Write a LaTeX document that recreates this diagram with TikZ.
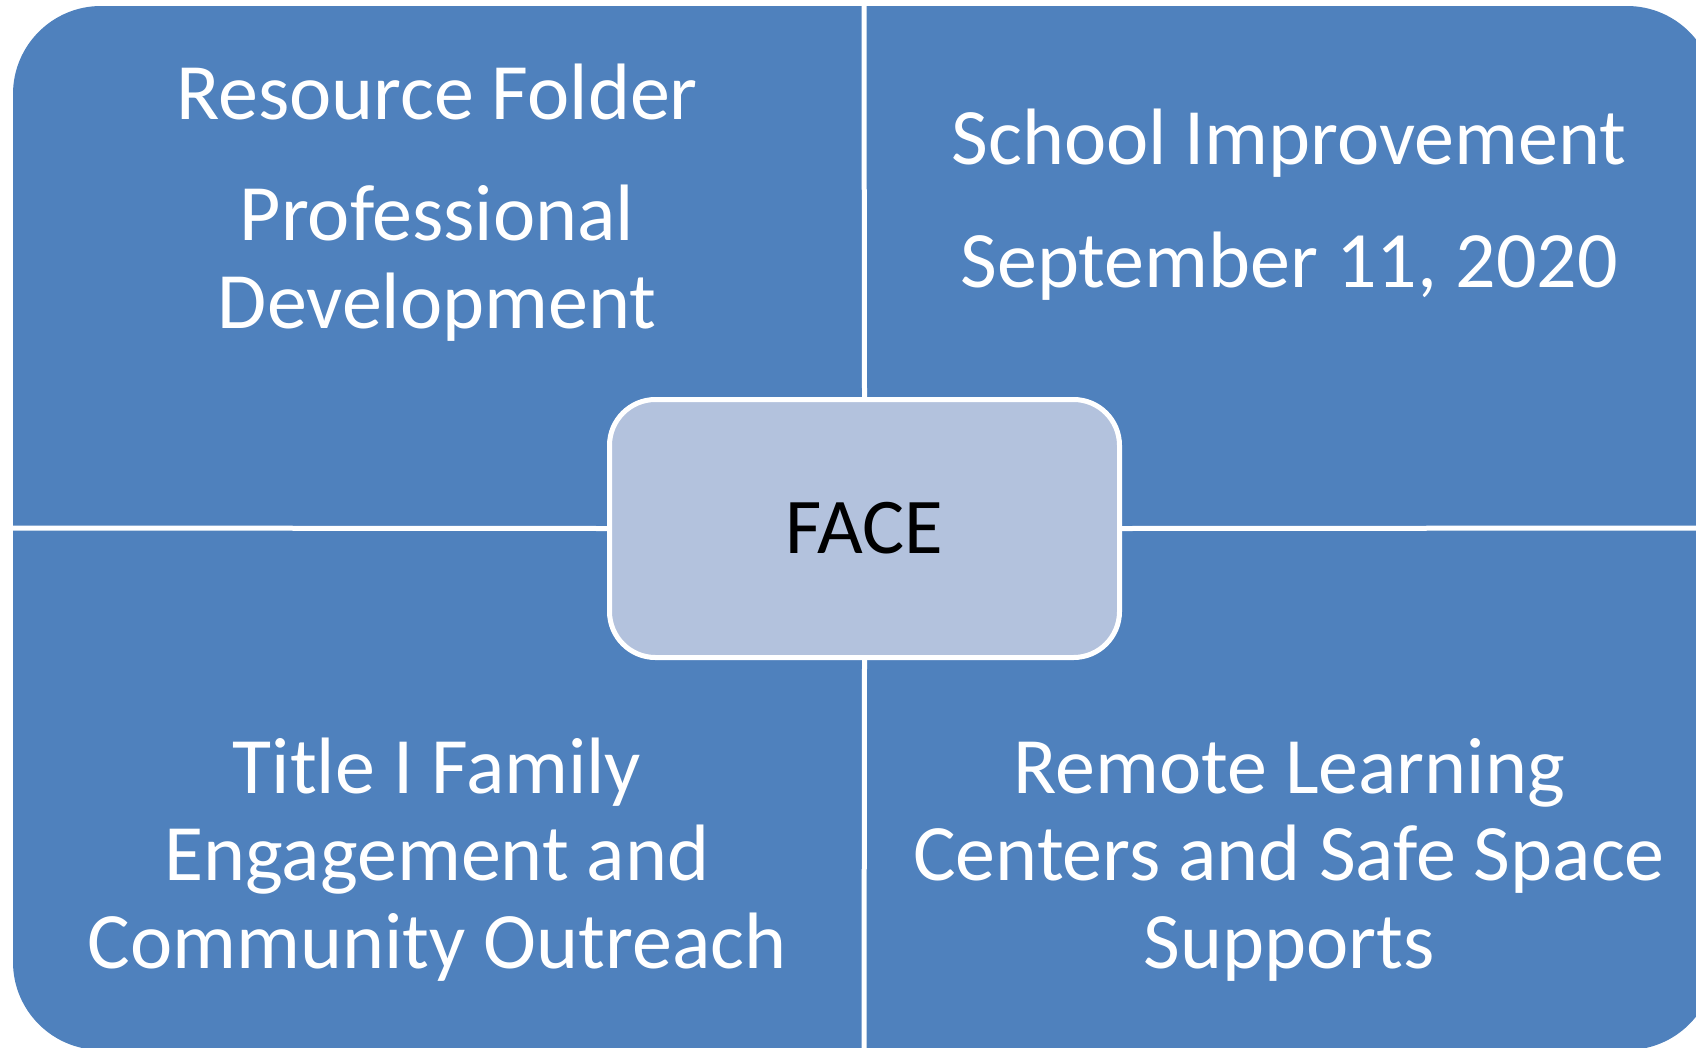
\documentclass[tikz,border=0pt]{standalone}
\usepackage{fontspec}
\setmainfont{Carlito}
\definecolor{qblue}{RGB}{79,129,189}
\definecolor{qlight}{RGB}{179,194,221}
\tikzset{
  qtext/.style={text=white, inner sep=0pt, anchor=base, font=\fontsize{80bp}{88bp}\selectfont},
  facebox/.style={draw=white, line width=5bp, fill=qlight, rounded corners=46bp,
    minimum width=510bp, minimum height=258bp, inner sep=0pt},
  sep/.style={draw=white, line width=5bp}
}
\begin{document}
\begin{tikzpicture}[x=1bp,y=-1bp]
\useasboundingbox (0,0) rectangle (1696,1047);
\clip (0,0) rectangle (1696,1047);
\fill[qblue, rounded corners=88bp] (13,6) rectangle (1715,1050);
\coordinate (top) at (864,0);
\coordinate (bottom) at (864,1060);
\coordinate (left) at (0,528);
\coordinate (right) at (1710,528);
\node[facebox] (face) at (864.5,528.5) {};
\node[qtext, text=black, font=\fontsize{79bp}{88bp}\selectfont] (facetxt) at (864.5,553) {FACE};
\draw[sep] (face.north) -- (top);
\draw[sep] (face.south) -- (bottom);
\draw[sep] (face.west) -- (left);
\draw[sep] (face.east) -- (right);
% top left
\node[qtext] (tl1) at (437,119) {Resource Folder};
\node[qtext] (tl2) at (437,240) {Professional};
\node[qtext] (tl3) at (437,328) {Development};
% top right
\node[qtext] (tr1) at (1289,164) {School Improvement};
\node[qtext] (tr2) at (1289,287) {September 11, 2020};
% bottom left
\node[qtext] (bl1) at (437,793) {Title I Family};
\node[qtext] (bl2) at (437,880) {Engagement and};
\node[qtext] (bl3) at (437,968) {Community Outreach};
% bottom right
\node[qtext] (br1) at (1289,793) {Remote Learning};
\node[qtext] (br2) at (1289,880) {Centers and Safe Space};
\node[qtext] (br3) at (1289,968) {Supports};
\end{tikzpicture}
\end{document}
